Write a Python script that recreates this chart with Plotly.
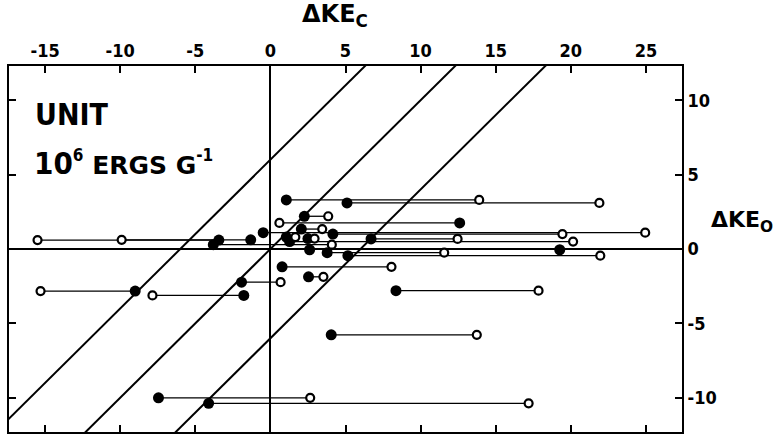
import plotly.graph_objects as go

# ---- data (ΔKE_C for the two estimates, ΔKE_O shared) ----
pair_ke_o = [3.3, 3.1, 2.2, 1.75, 1.34,
             0.60, 0.62, 0.29, 1.00, 1.10, 0.80, 0.50, 0.70, 0.68,
             -0.25, -0.45, -0.05, -0.05,
             -1.20, -1.87, -2.23, -2.83, -3.12, -2.80, -5.77, -10.0, -10.37]
filled_ke_c = [1.06, 5.1, 2.26, 12.6, 2.06,
               -3.43, -1.31, -3.80, 4.16, -0.48, 1.06, 1.28, 2.50, 6.70,
               3.78, 5.16, 2.61, 19.26,
               0.78, 2.54, -1.92, -9.0, -1.77, 8.36, 4.05, -7.45, -4.11]
open_ke_c = [13.9, 21.9, 3.85, 0.6, 3.45,
             -15.5, -9.9, 4.09, 19.44, 24.95, 1.66, 20.15, 2.94, 12.46,
             11.57, 21.96, None, None,
             8.06, 3.53, 0.68, -15.3, -7.85, 17.85, 13.74, 2.65, 17.19]

diag_offsets = [6, 0, -6]          # lines ΔKE_O = ΔKE_C + c

x_tick_vals = [-15, -10, -5, 0, 5, 10, 15, 20, 25]
x_tick_text = ["-15", "-10", "-5", "0", "5", "10", "15", "20", "25"]
y_tick_vals = [-10, -5, 0, 5, 10]
y_tick_text = ["-10", "-5", "0", "5", "10"]

x_range = [-17.4, 27.4]
y_range = [-12.3, 12.3]

FONT = "DejaVu Sans Condensed, Liberation Sans Narrow, DejaVu Sans, sans-serif"
FONT_T = "DejaVu Sans, sans-serif"

fig = go.Figure()

# diagonal reference lines
for c in diag_offsets:
    xs = [x_range[0] - 20, x_range[1] + 20]
    fig.add_trace(go.Scatter(x=xs, y=[v + c for v in xs], mode="lines",
                             line=dict(color="black", width=2),
                             hoverinfo="skip", showlegend=False))

# connecting segments
seg_x, seg_y = [], []
for yv, f, o in zip(pair_ke_o, filled_ke_c, open_ke_c):
    if o is None:
        continue
    seg_x += [f, o, None]
    seg_y += [yv, yv, None]
fig.add_trace(go.Scatter(x=seg_x, y=seg_y, mode="lines",
                         line=dict(color="black", width=1.3),
                         hoverinfo="skip", showlegend=False))

# filled points
fig.add_trace(go.Scatter(x=filled_ke_c, y=pair_ke_o, mode="markers",
                         marker=dict(symbol="circle", size=11, color="black",
                                     line=dict(width=0)),
                         showlegend=False))
# open points
ox = [o for o in open_ke_c if o is not None]
oy = [yv for yv, o in zip(pair_ke_o, open_ke_c) if o is not None]
fig.add_trace(go.Scatter(x=ox, y=oy, mode="markers",
                         marker=dict(symbol="circle", size=8, color="white",
                                     line=dict(width=2.2, color="black")),
                         showlegend=False))

fig.update_layout(
    width=779, height=441,
    margin=dict(l=7, r=97, t=66, b=8),
    paper_bgcolor="white", plot_bgcolor="white",
    font=dict(family=FONT, color="black", size=18, weight="bold"),
    xaxis=dict(range=x_range, side="top", showgrid=False,
               zeroline=True, zerolinecolor="black", zerolinewidth=2,
               showline=True, linecolor="black", linewidth=2, mirror="ticks",
               ticks="inside", ticklen=7, tickwidth=2, tickcolor="black",
               tickvals=x_tick_vals, ticktext=x_tick_text,
               tickfont=dict(family=FONT, size=18, color="black", weight="bold")),
    yaxis=dict(range=y_range, side="right", showgrid=False,
               zeroline=True, zerolinecolor="black", zerolinewidth=2,
               showline=True, linecolor="black", linewidth=2, mirror="ticks",
               ticks="inside", ticklen=7, tickwidth=2, tickcolor="black",
               tickvals=y_tick_vals, ticktext=y_tick_text,
               tickfont=dict(family=FONT, size=18, color="black", weight="bold")),
    annotations=[
        dict(text="ΔKE<sub>C</sub>", xref="paper", yref="paper",
             x=0.484, y=1.09, xanchor="center", yanchor="bottom", showarrow=False,
             font=dict(family=FONT_T, size=24, weight="bold")),
        dict(text="ΔKE<sub>O</sub>", xref="paper", yref="paper",
             x=1.040, y=0.575, xanchor="left", yanchor="middle", showarrow=False,
             font=dict(family=FONT_T, size=22, weight="bold")),
        dict(text="UNIT", xref="paper", yref="paper",
             x=0.036, y=0.867, xanchor="left", yanchor="middle", showarrow=False,
             font=dict(family=FONT, size=30, weight="bold")),
        dict(text='10<sup><span style="font-size:17px">6</span></sup>'
                  '<span style="font-size:25px;font-family:DejaVu Sans"> ERGS G</span>'
                  '<sup><span style="font-size:17px">-1</span></sup>',
             xref="paper", yref="paper",
             x=0.034, y=0.735, xanchor="left", yanchor="middle", showarrow=False,
             font=dict(family=FONT, size=31, weight="bold")),
    ],
)

fig.write_html("out.html",
               config={"displayModeBar": False},
               post_script="document.body.style.margin='0px';"
                           "document.body.style.padding='0px';")
